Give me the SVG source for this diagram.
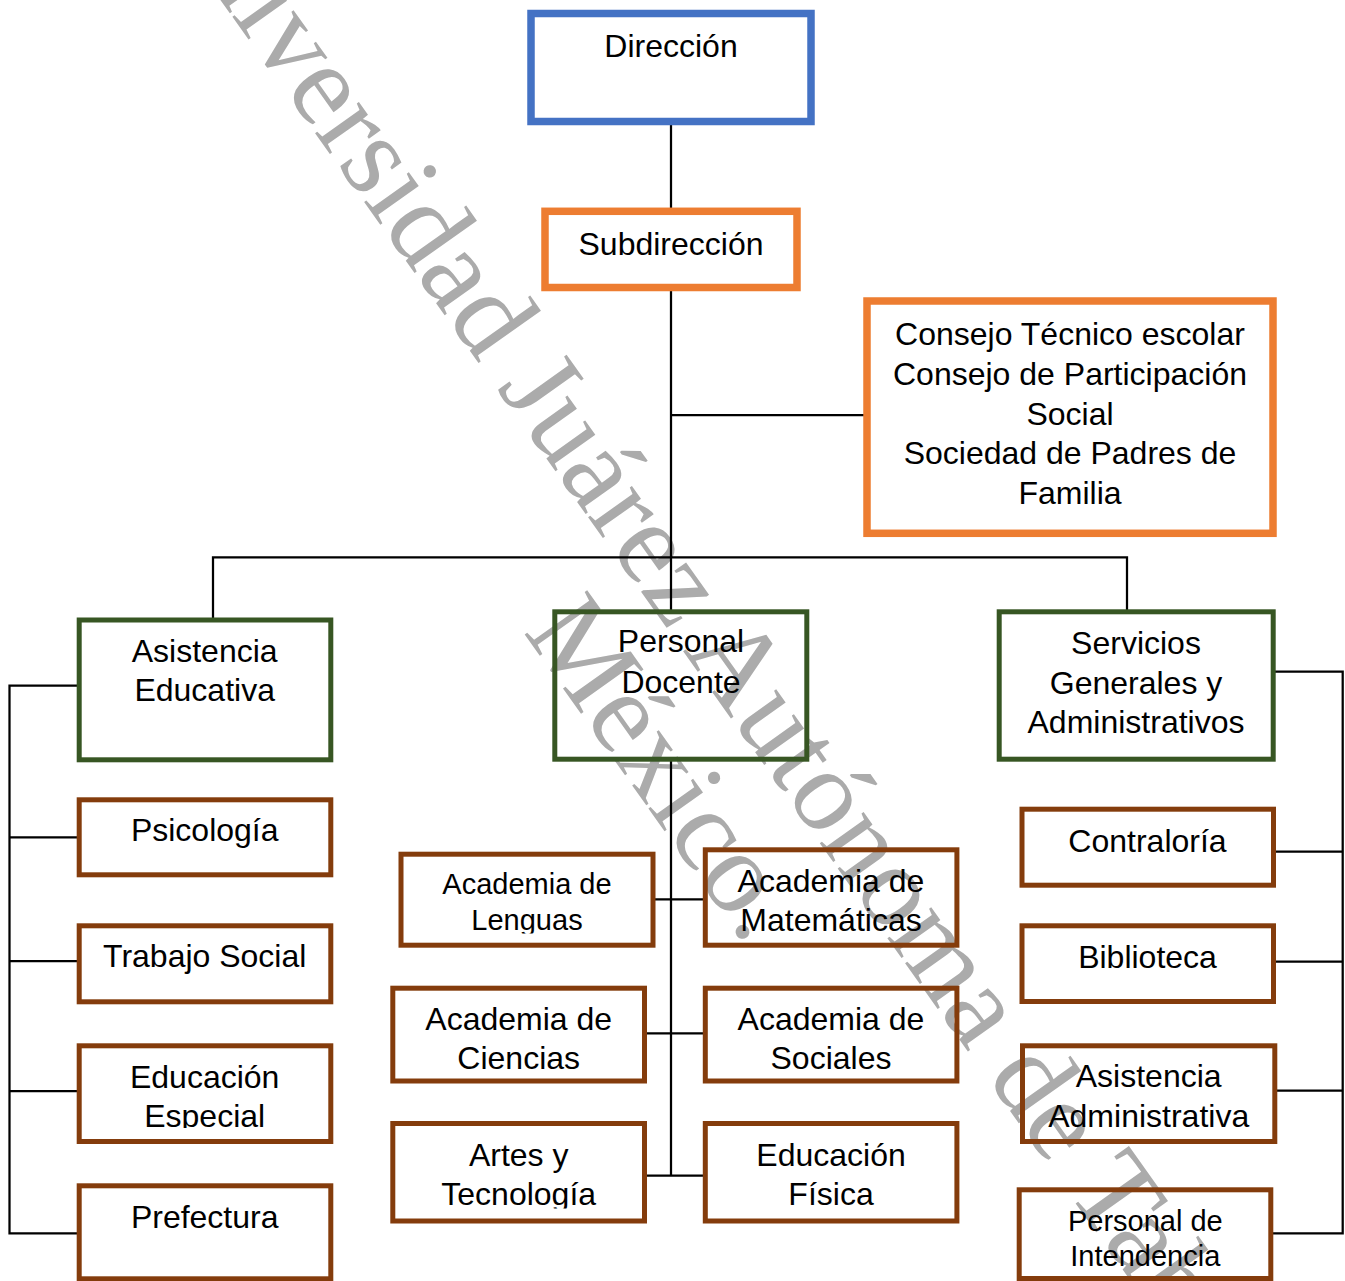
<svg xmlns="http://www.w3.org/2000/svg" width="1345" height="1281" viewBox="0 0 1345 1281">
<style>
.t{font-family:"Liberation Sans",Arial,sans-serif;font-size:32px;fill:#000;text-anchor:middle}
.s{font-size:29px}
.bl{fill:none;stroke:#4472C4;stroke-width:7.5}
.or{fill:none;stroke:#ED7D31;stroke-width:7.5}
.gr{fill:none;stroke:#375623;stroke-width:5}
.br{fill:none;stroke:#843C0C;stroke-width:5}
.wm{font-family:"Liberation Serif","Times New Roman",serif;font-size:117px;fill:#ABABAB}
#connectors path{fill:none;stroke:#000;stroke-width:2.25}
</style>
<defs>
<clipPath id="cEsp"><rect x="80" y="1040" width="250" height="88"/></clipPath>
<clipPath id="cLen"><rect x="402" y="850" width="250" height="83.5"/></clipPath>
<clipPath id="cArt"><rect x="394" y="1120" width="250" height="88.5"/></clipPath>
</defs>
<rect width="1345" height="1281" fill="#fff"/>
<g id="watermark" transform="translate(148.1,-101.9) rotate(54.6)">
<text class="wm" x="0" y="0">Universidad Juárez Autónoma de Tabasco</text>
<text class="wm" x="815" y="119.5">México.</text>
</g>
<g id="connectors">
<path d="M671,125V211"/>
<path d="M671,291V612"/>
<path d="M671,415H867"/>
<path d="M213,620V557.3H1127V611.8"/>
<path d="M671,759.5V1175.7"/>
<path d="M653,899.3H705"/>
<path d="M644.5,1033.3H705"/>
<path d="M644.5,1175.7H705"/>
<path d="M79,685.7H9.5V1233.3H79"/>
<path d="M9.5,837.3H79"/>
<path d="M9.5,961H79"/>
<path d="M9.5,1091H79"/>
<path d="M1274,671.7H1342.7V1233.3H1271"/>
<path d="M1273.5,851.7H1342.7"/>
<path d="M1273.5,961.7H1342.7"/>
<path d="M1274.8,1090.7H1342.7"/>
</g>
<g id="n-direccion"><rect class="bl" x="531" y="13.5" width="280" height="108"/><text class="t" x="671" y="57.3">Dirección</text></g>
<g id="n-subdireccion"><rect class="or" x="545" y="211.3" width="252" height="76.2"/><text class="t" x="671" y="255">Subdirección</text></g>
<g id="n-consejo"><rect class="or" x="867" y="301" width="406" height="232.3"/>
<text class="t" x="1070" y="345">Consejo Técnico escolar</text>
<text class="t" x="1070" y="384.5">Consejo de Participación</text>
<text class="t" x="1070" y="424.5">Social</text>
<text class="t" x="1070" y="464.3">Sociedad de Padres de</text>
<text class="t" x="1070" y="503.5">Familia</text></g>
<g id="n-asistencia-educativa"><rect class="gr" x="79.2" y="620" width="251.6" height="139.8"/><text class="t" x="204.7" y="661.7">Asistencia</text><text class="t" x="204.7" y="700.7">Educativa</text></g>
<g id="n-personal-docente"><rect class="gr" x="554.8" y="611.8" width="252" height="147.4"/><text class="t" x="681" y="652.2">Personal</text><text class="t" x="681" y="693.2">Docente</text></g>
<g id="n-servicios"><rect class="gr" x="999.2" y="611.8" width="274" height="147.4"/><text class="t" x="1136" y="653.8">Servicios</text><text class="t" x="1136" y="693.8">Generales y</text><text class="t" x="1136" y="732.8">Administrativos</text></g>
<g id="n-psicologia"><rect class="br" x="79.2" y="799.8" width="251.6" height="75"/><text class="t" x="204.7" y="841.2">Psicología</text></g>
<g id="n-trabajo-social"><rect class="br" x="79.2" y="925.8" width="251.6" height="76"/><text class="t" x="204.7" y="967.3">Trabajo Social</text></g>
<g id="n-educacion-especial"><rect class="br" x="79.2" y="1045.8" width="251.6" height="95.7"/><g clip-path="url(#cEsp)"><text class="t" x="204.7" y="1087.8">Educación</text><text class="t" x="204.7" y="1127.2">Especial</text></g></g>
<g id="n-prefectura"><rect class="br" x="79.2" y="1185.8" width="251.6" height="93"/><text class="t" x="204.7" y="1227.8">Prefectura</text></g>
<g id="n-lenguas"><rect class="br" x="401" y="854.2" width="252" height="91"/><g clip-path="url(#cLen)"><text class="t s" x="527" y="893.8">Academia de</text><text class="t s" x="527" y="929.8">Lenguas</text></g></g>
<g id="n-matematicas"><rect class="br" x="705.3" y="849.8" width="251.6" height="95.4"/><text class="t" x="831" y="892.2">Academia de</text><text class="t" x="831" y="931.2">Matemáticas</text></g>
<g id="n-ciencias"><rect class="br" x="392.8" y="988.2" width="251.7" height="92.8"/><text class="t" x="518.7" y="1029.8">Academia de</text><text class="t" x="518.7" y="1068.8">Ciencias</text></g>
<g id="n-sociales"><rect class="br" x="705.3" y="988.2" width="251.6" height="92.8"/><text class="t" x="831" y="1029.8">Academia de</text><text class="t" x="831" y="1068.8">Sociales</text></g>
<g id="n-artes"><rect class="br" x="392.8" y="1123.5" width="251.7" height="97.5"/><g clip-path="url(#cArt)"><text class="t" x="518.7" y="1165.5">Artes y</text><text class="t" x="518.7" y="1204.8">Tecnología</text></g></g>
<g id="n-educacion-fisica"><rect class="br" x="705.3" y="1123.5" width="251.6" height="97.5"/><text class="t" x="831" y="1165.5">Educación</text><text class="t" x="831" y="1204.8">Física</text></g>
<g id="n-contraloria"><rect class="br" x="1022" y="809.2" width="251.5" height="76"/><text class="t" x="1147.5" y="851.5">Contraloría</text></g>
<g id="n-biblioteca"><rect class="br" x="1022" y="925.8" width="251.5" height="75.7"/><text class="t" x="1147.5" y="967.8">Biblioteca</text></g>
<g id="n-asistencia-administrativa"><rect class="br" x="1022.5" y="1045.8" width="252.3" height="95.7"/><text class="t" x="1148.7" y="1087.2">Asistencia</text><text class="t" x="1148.7" y="1127.2">Administrativa</text></g>
<g id="n-intendencia"><rect class="br" x="1019.2" y="1189.8" width="251.6" height="88.7"/><text class="t s" x="1145.3" y="1230.5">Personal de</text><text class="t s" x="1145.3" y="1265.5">Intendencia</text></g>
</svg>
